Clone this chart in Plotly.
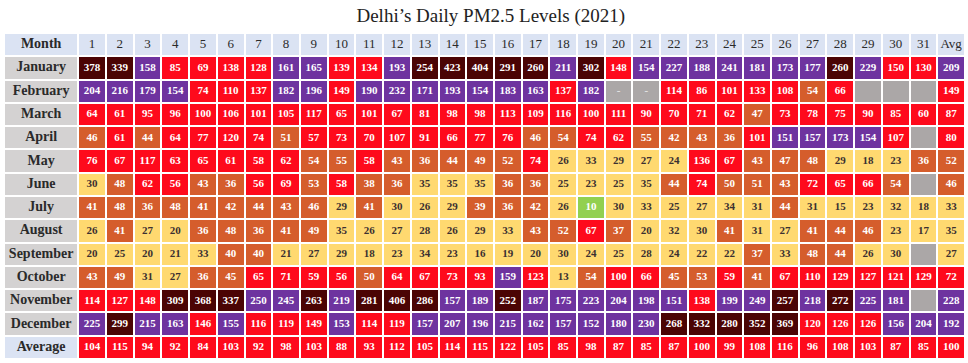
import calendar
import plotly.graph_objects as go

# ---------------- data ----------------
months = ["January", "February", "March", "April", "May", "June", "July",
          "August", "September", "October", "November", "December"]
days = list(range(1, 32))

jan = [378, 339, 158, 85, 69, 138, 128, 161, 165, 139, 134, 193, 254, 423, 404, 291,
       260, 211, 302, 148, 154, 227, 188, 241, 181, 173, 177, 260, 229, 150, 130]
feb = [204, 216, 179, 154, 74, 110, 137, 182, 196, 149, 190, 232, 171, 193, 154, 183,
       163, 137, 182, None, None, 114, 86, 101, 133, 108, 54, 66, None, None, None]
mar = [64, 61, 95, 96, 100, 106, 101, 105, 117, 65, 101, 67, 81, 98, 98, 113,
       109, 116, 100, 111, 90, 70, 71, 62, 47, 73, 78, 75, 90, 85, 60]
apr = [46, 61, 44, 64, 77, 120, 74, 51, 57, 73, 70, 107, 91, 66, 77, 76,
       46, 54, 74, 62, 55, 42, 43, 36, 101, 151, 157, 173, 154, 107, None]
may = [76, 67, 117, 63, 65, 61, 58, 62, 54, 55, 58, 43, 36, 44, 49, 52,
       74, 26, 33, 29, 27, 24, 136, 67, 43, 47, 48, 29, 18, 23, 36]
jun = [30, 48, 62, 56, 43, 36, 56, 69, 53, 58, 38, 36, 35, 35, 35, 36,
       36, 25, 23, 25, 35, 44, 74, 50, 51, 43, 72, 65, 66, 54, None]
jul = [41, 48, 36, 48, 41, 42, 44, 43, 46, 29, 41, 30, 26, 29, 39, 36,
       42, 26, 10, 30, 33, 25, 27, 34, 31, 44, 31, 15, 23, 32, 18]
aug = [26, 41, 27, 20, 36, 48, 36, 41, 49, 35, 26, 27, 28, 26, 29, 33,
       43, 52, 67, 37, 20, 32, 30, 41, 31, 27, 41, 44, 46, 23, 17]
sep = [20, 25, 20, 21, 33, 40, 40, 21, 27, 29, 18, 23, 34, 23, 16, 19,
       20, 30, 24, 25, 28, 24, 22, 22, 37, 33, 48, 44, 26, 30, None]
oct_ = [43, 49, 31, 27, 36, 45, 65, 71, 59, 56, 50, 64, 67, 73, 93, 159,
        123, 13, 54, 100, 66, 45, 53, 59, 41, 67, 110, 129, 127, 121, 129]
nov = [114, 127, 148, 309, 368, 337, 250, 245, 263, 219, 281, 406, 286, 157, 189, 252,
       187, 175, 223, 204, 198, 151, 138, 199, 249, 257, 218, 272, 225, 181, None]
dec = [225, 299, 215, 163, 146, 155, 116, 119, 149, 153, 114, 119, 157, 207, 196, 215,
       162, 157, 152, 180, 230, 268, 332, 280, 352, 369, 120, 126, 126, 156, 204]

month_avg = [209, 149, 87, 80, 52, 46, 33, 35, 27, 72, 228, 192]
day_avg = [104, 115, 94, 92, 84, 103, 92, 98, 103, 88, 93, 112, 105, 114, 115, 122,
           105, 85, 98, 87, 85, 87, 100, 99, 108, 116, 96, 108, 103, 87, 85]
overall_avg = 100

rows = [jan, feb, mar, apr, may, jun, jul, aug, sep, oct_, nov, dec]
title = "Delhi’s Daily PM2.5 Levels (2021)"

# ---------------- styling ----------------
C_MISSING = "#aba7a7"
C_GREEN = "#92d050"
C_YELLOW = "#ffd970"
C_ORANGE = "#d55d2c"
C_RED = "#fe0a1c"
C_PURPLE = "#6e339f"
C_MAROON = "#4b0404"
C_HEAD = "#dbe3f3"
C_LABEL = "#d4d2d2"
palette = [C_MISSING, C_GREEN, C_YELLOW, C_ORANGE, C_RED, C_PURPLE, C_MAROON, C_HEAD, C_LABEL]


def cat(v):
    if v is None:
        return 0
    if v <= 12:
        return 1
    if v <= 35.4:
        return 2
    if v <= 55.4:
        return 3
    if v <= 150.4:
        return 4
    if v <= 250.4:
        return 5
    return 6


n = len(palette)
cscale = []
for i, c in enumerate(palette):
    cscale.append([i / n, c])
    cscale.append([(i + 1) / n, c])

LABEL_W = 2.68
x_edges = [-LABEL_W] + [float(d) for d in range(0, 33)]
x_centers = [-LABEL_W / 2] + [d - 0.5 for d in days] + [31.5]

# grid of codes
z = []
z.append([7] * 33)  # header
for mi, vals in enumerate(rows):
    z.append([8] + [cat(v) for v in vals] + [cat(month_avg[mi])])
z.append([7] + [cat(v) for v in day_avg] + [cat(overall_avg)])

fig = go.Figure()
fig.add_trace(go.Heatmap(
    z=z, x=x_edges, y=list(range(14)),
    colorscale=cscale, zmin=-0.5, zmax=n - 0.5,
    showscale=False, xgap=2, ygap=2, hoverinfo="skip",
))

# cell numbers
tx, ty, tt, tc = [], [], [], []


def add_cell(xc, yc, v, label=None):
    tx.append(xc)
    ty.append(yc)
    k = cat(v)
    if label is not None:
        tt.append(label)
        tc.append("#e4e4e4")
        return
    tt.append(str(v))
    tc.append("#3b3030" if k == 2 else "#ffffff")


for mi, vals in enumerate(rows):
    ndays = calendar.monthrange(2021, mi + 1)[1]
    for di, v in enumerate(vals):
        if v is None:
            if di + 1 <= ndays:
                add_cell(x_centers[di + 1], mi + 1, v, label="-")
            continue
        add_cell(x_centers[di + 1], mi + 1, v)
    add_cell(x_centers[32], mi + 1, month_avg[mi])
for di, v in enumerate(day_avg):
    add_cell(x_centers[di + 1], 13, v)
add_cell(x_centers[32], 13, overall_avg)

fig.add_trace(go.Scatter(
    x=tx, y=ty, text=tt, mode="text",
    textfont=dict(family="Liberation Serif", size=11, color=tc, weight="bold"),
    hoverinfo="skip", showlegend=False,
))

# header row
fig.add_trace(go.Scatter(
    x=x_centers[1:], y=[0] * 32, text=[str(d) for d in days] + ["Avg"], mode="text",
    textfont=dict(family="Liberation Serif", size=13, color="#2a2a2a"),
    hoverinfo="skip", showlegend=False,
))

# label column
fig.add_trace(go.Scatter(
    x=[x_centers[0]] * 14, y=list(range(14)), text=["Month"] + months + ["Average"],
    mode="text",
    textfont=dict(family="Liberation Serif", size=14, color="#2a2a2a", weight="bold"),
    hoverinfo="skip", showlegend=False,
))

fig.update_layout(
    width=968, height=363,
    margin=dict(l=4, r=3, t=33, b=4),
    paper_bgcolor="white", plot_bgcolor="white",
    title=dict(text=title, x=0.507, xanchor="center", y=0.958, yanchor="middle",
               yref="container",
               font=dict(family="Liberation Serif", size=19, color="#222222")),
    xaxis=dict(range=[-LABEL_W, 32], visible=False, fixedrange=True),
    yaxis=dict(range=[13.5, -0.5], visible=False, fixedrange=True),
    showlegend=False,
)

fig.write_html(
    "out.html",
    config={"displayModeBar": False},
    post_script="document.body.style.margin='0px';document.body.style.overflow='hidden';",
)
